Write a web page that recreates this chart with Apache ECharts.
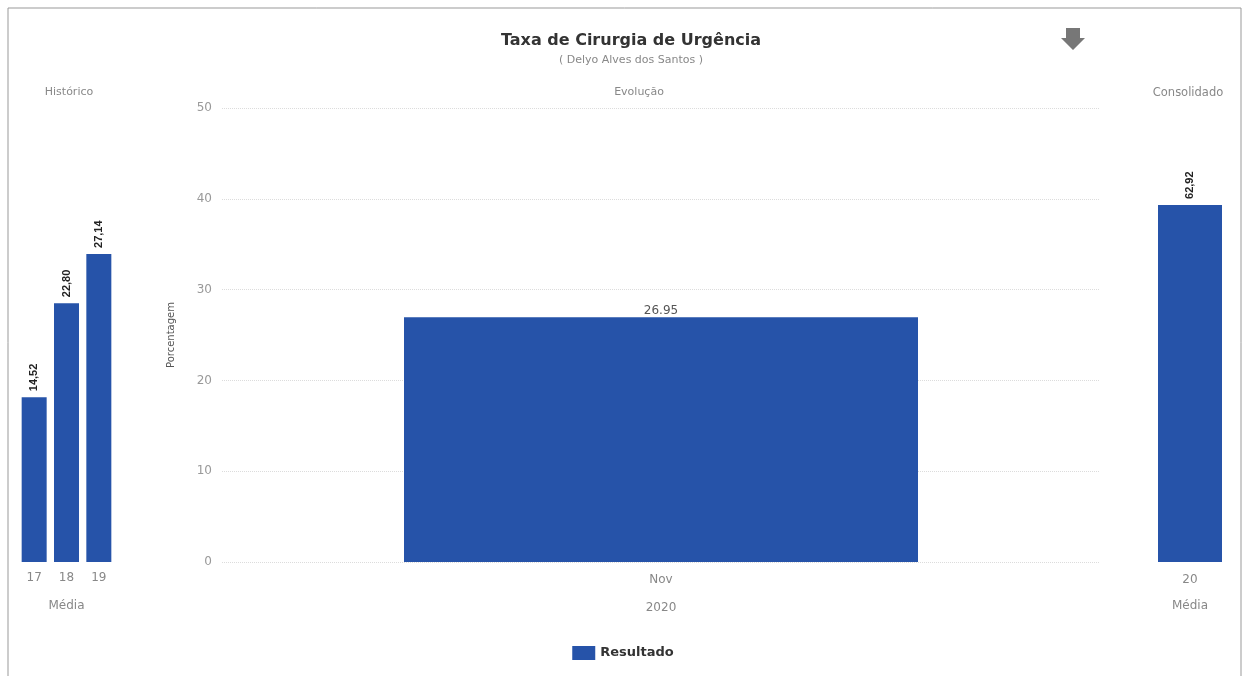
<!DOCTYPE html>
<html>
<head>
<meta charset="utf-8">
<script src="https://cdn.jsdelivr.net/npm/echarts@6/dist/echarts.min.js"></script>
<style>
html,body{margin:0;padding:0;background:#fff;}
#chart{width:1246px;height:676px;}
</style>
</head>
<body>
<div id="chart"></div>
<script>
// Data
const histCategories = ['17', '18', '19'];
const histValues = [14.52, 22.80, 27.14];
const evoCategories = ['Nov'];
const evoValues = [26.95];
const consCategories = ['20'];
const consValues = [62.92];
const evoTicks = [0, 10, 20, 30, 40, 50];

const barColor = '#2653a9';
const fontFam = '"DejaVu Sans", Verdana, sans-serif';
const commaFmt = p => p.value.toFixed(2).replace('.', ',');

const chart = echarts.init(document.getElementById('chart'));
chart.setOption({
  animation: false,
  textStyle: { fontFamily: fontFam },
  title: [
    { text: 'Taxa de Cirurgia de Urgência', subtext: '( Delyo Alves dos Santos )', left: 626, textAlign: 'center', top: 28,
      textStyle: { fontSize: 16, fontWeight: 'bold', color: '#333', fontFamily: fontFam },
      subtextStyle: { fontSize: 11, color: '#888', fontFamily: fontFam }, itemGap: 6 },
    { text: 'Histórico', left: 64, textAlign: 'center', top: 82, textStyle: { fontSize: 11, fontWeight: 'normal', color: '#888', fontFamily: fontFam } },
    { text: 'Evolução', left: 634, textAlign: 'center', top: 82, textStyle: { fontSize: 11, fontWeight: 'normal', color: '#888', fontFamily: fontFam } },
    { text: 'Consolidado', left: 1183, textAlign: 'center', top: 82, textStyle: { fontSize: 11.5, fontWeight: 'normal', color: '#888', fontFamily: fontFam } }
  ],
  legend: {
    data: [{ name: 'Resultado', icon: 'rect' }], left: 'center', top: 641, itemWidth: 23, itemHeight: 14,
    textStyle: { fontSize: 13, fontWeight: 'bold', color: '#333', fontFamily: fontFam }
  },
  graphic: [
    { type: 'rect', shape: { x: 8, y: 8, width: 1233, height: 690 }, style: { fill: 'none', stroke: '#999', lineWidth: 1 }, silent: true },
    { type: 'polygon', shape: { points: [[1066, 28], [1080, 28], [1080, 38], [1085, 38], [1073, 50], [1061, 38], [1066, 38]] }, style: { fill: '#777' } }
  ],
  grid: [
    { left: 18, width: 97, top: 108, bottom: 114 },
    { left: 222, width: 878, top: 108, bottom: 114 },
    { left: 1150, width: 80, top: 108, bottom: 114 }
  ],
  xAxis: [
    { type: 'category', gridIndex: 0, data: histCategories, axisLine: { show: false }, axisTick: { show: false },
      axisLabel: { color: '#888', fontSize: 12, margin: 10 }, name: 'Média', nameLocation: 'middle', nameGap: 38,
      nameTextStyle: { color: '#888', fontSize: 12 } },
    { type: 'category', gridIndex: 1, data: evoCategories, axisLine: { show: false }, axisTick: { show: false },
      axisLabel: { color: '#888', fontSize: 12, margin: 12 }, name: '2020', nameLocation: 'middle', nameGap: 40,
      nameTextStyle: { color: '#888', fontSize: 12 } },
    { type: 'category', gridIndex: 2, data: consCategories, axisLine: { show: false }, axisTick: { show: false },
      axisLabel: { color: '#888', fontSize: 12, margin: 12 }, name: 'Média', nameLocation: 'middle', nameGap: 38,
      nameTextStyle: { color: '#888', fontSize: 12 } }
  ],
  yAxis: [
    { type: 'value', gridIndex: 0, min: 0, max: 40, show: false, splitLine: { show: false } },
    { type: 'value', gridIndex: 1, min: 0, max: evoTicks[evoTicks.length - 1], interval: 10,
      name: 'Porcentagem', nameLocation: 'middle', nameGap: 46, nameTextStyle: { color: '#555', fontSize: 10 },
      axisLine: { show: false }, axisTick: { show: false },
      axisLabel: { color: '#999', fontSize: 12, margin: 10 },
      splitLine: { lineStyle: { color: '#dcdcdc', type: 'dotted' } } },
    { type: 'value', gridIndex: 2, min: 0, max: 80, show: false, splitLine: { show: false } }
  ],
  series: [
    { name: 'Resultado', type: 'bar', xAxisIndex: 0, yAxisIndex: 0, data: histValues, barWidth: 25,
      itemStyle: { color: barColor },
      label: { show: true, position: 'top', rotate: 90, align: 'left', verticalAlign: 'middle', distance: 6,
        formatter: commaFmt, fontSize: 11, fontWeight: 'bold', color: '#222', fontFamily: '"Liberation Sans Narrow", "Liberation Sans", sans-serif' } },
    { name: 'Resultado', type: 'bar', xAxisIndex: 1, yAxisIndex: 1, data: evoValues, barWidth: 514,
      itemStyle: { color: barColor },
      label: { show: true, position: 'top', distance: 0, formatter: p => p.value.toFixed(2), fontSize: 12, color: '#555' } },
    { name: 'Resultado', type: 'bar', xAxisIndex: 2, yAxisIndex: 2, data: consValues, barWidth: 64,
      itemStyle: { color: barColor },
      label: { show: true, position: 'top', rotate: 90, align: 'left', verticalAlign: 'middle', distance: 6,
        formatter: commaFmt, fontSize: 11, fontWeight: 'bold', color: '#222', fontFamily: '"Liberation Sans Narrow", "Liberation Sans", sans-serif' } }
  ]
});
</script>
</body>
</html>
